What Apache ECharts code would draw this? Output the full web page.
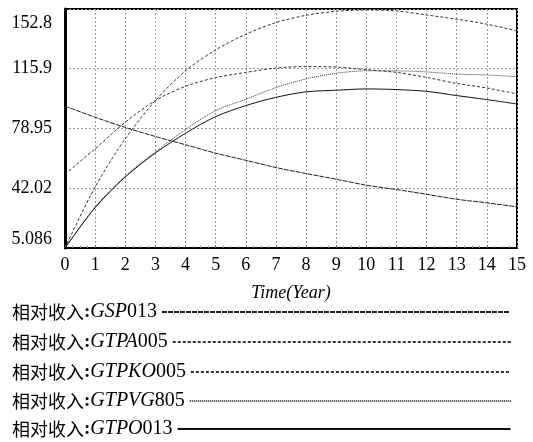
<!DOCTYPE html>
<html><head><meta charset="utf-8">
<script src="https://cdn.jsdelivr.net/npm/echarts@6/dist/echarts.min.js"></script>
<style>html,body{margin:0;padding:0;background:#fff}#c{width:533px;height:442px}</style>
</head><body><div id="c"></div>
<script>
var years = [0,1,2,3,4,5,6,7,8,9,10,11,12,13,14,15];
var yTicks = [5.086, 42.02, 78.95, 115.9, 152.8];
var yTickLabels = ['5.086', '42.02', '78.95', '115.9', '152.8'];
var seriesNames = ['相对收入:GSP013', '相对收入:GTPA005', '相对收入:GTPKO005', '相对收入:GTPVG805', '相对收入:GTPO013'];
var gsp013   = [92.7, 85.9, 79.6, 74.0, 68.9, 63.7, 59.3, 54.8, 51.1, 47.6, 43.9, 41.2, 38.3, 35.2, 33.0, 30.5];
var gtpa005  = [5.1, 42.8, 72.6, 96.2, 114.6, 127.5, 137.2, 144.4, 148.9, 151.4, 152.2, 151.6, 149.1, 146.5, 143.4, 139.3];
var gtpko005 = [50.8, 66.4, 82.8, 96.2, 105.0, 110.4, 113.6, 116.3, 117.2, 116.9, 115.3, 113.6, 110.5, 106.8, 104.0, 100.3];
var gtpvg805 = [5.1, 30.5, 49.5, 64.5, 78.3, 90.0, 97.0, 104.2, 109.6, 113.1, 114.6, 114.6, 113.9, 112.6, 112.0, 111.0];
var gtpo013  = [5.1, 30.0, 49.0, 63.8, 76.0, 86.3, 93.1, 98.2, 101.6, 102.6, 103.4, 103.0, 101.9, 99.3, 96.8, 94.1];

var values = [gsp013, gtpa005, gtpko005, gtpvg805, gtpo013];
var dashes = [[5,1], [3,2], [3,2], [1,1], 'solid'];
var colors = ['#222', '#333', '#333', '#333', '#111'];
var legendTops = [302, 332, 362, 391, 419];
var legendWidths = [348, 340, 319, 321, 333];

var chart = echarts.init(document.getElementById('c'), null, {renderer: 'canvas'});
var serif = '"Liberation Serif", "DejaVu Serif", serif';
var cjk = '"Noto Sans CJK SC", sans-serif';

function pairs(arr){ return years.map(function(x,i){ return [x, arr[i]]; }); }

var series = values.map(function(v, i){
  return {
    name: seriesNames[i], type: 'line', data: pairs(v), symbol: 'none', smooth: 0.3,
    lineStyle: {color: colors[i], width: 1, type: dashes[i]}, itemStyle: {color: colors[i]},
    z: 3
  };
});

var legends = seriesNames.map(function(n, i){
  return {
    data: [n], left: 12, top: legendTops[i], orient: 'horizontal', align: 'right',
    itemWidth: legendWidths[i], itemHeight: 12, padding: 0, selectedMode: false,
    itemStyle: {opacity: 0},
    formatter: function(name){
      var rest = name.split(':')[1];
      var m = rest.match(/^([A-Z]+)(\d+)$/);
      return '{a|相对收入}{d|:}{b|' + m[1] + '}{c|' + m[2] + '}';
    },
    textStyle: {
      color: '#000', fontSize: 18,
      rich: {
        a: {fontFamily: cjk, fontSize: 18, color: '#000'},
        d: {fontFamily: serif, fontSize: 19, fontWeight: 'bold', color: '#000'},
        b: {fontFamily: serif, fontSize: 20, fontStyle: 'italic', color: '#000'},
        c: {fontFamily: serif, fontSize: 20, color: '#000'}
      }
    }
  };
});

chart.setOption({
  animation: false,
  backgroundColor: '#fff',
  grid: {left: 65, right: 16, top: 9, bottom: 194, show: true, borderColor: '#000', borderWidth: 2, backgroundColor: 'transparent'},
  legend: legends,
  xAxis: {
    type: 'value', min: 0, max: 15, interval: 1,
    name: 'Time(Year)', nameLocation: 'middle', nameGap: 36,
    nameTextStyle: {fontFamily: serif, fontSize: 18, fontStyle: 'italic', color: '#000'},
    axisLine: {show: true, lineStyle: {color: '#000', width: 2}},
    axisTick: {show: true, inside: true, length: 3, lineStyle: {color: '#666'}},
    minorTick: {show: true, splitNumber: 4, length: 2, lineStyle: {color: '#888'}},
    axisLabel: {fontFamily: serif, fontSize: 18, color: '#000', margin: 8},
    splitLine: {show: true, lineStyle: {color: '#999', type: [2,2], width: 1}}
  },
  yAxis: {
    type: 'value', min: yTicks[0], max: yTicks[yTicks.length-1],
    axisLine: {show: true, lineStyle: {color: '#000', width: 3}},
    axisTick: {show: false, customValues: yTicks},
    axisLabel: {
      fontFamily: serif, fontSize: 18, color: '#000', margin: 13,
      customValues: yTicks,
      verticalAlignMinLabel: 'bottom', verticalAlignMaxLabel: 'top',
      rich: {t: {fontFamily: serif, fontSize: 18, color: '#000', padding: [5, 0, 0, 0]}},
      formatter: function(v){
        var k = yTicks.indexOf(v);
        if (k < 0) return '';
        return k === yTicks.length - 1 ? '{t|' + yTickLabels[k] + '}' : yTickLabels[k];
      }
    },
    splitLine: {show: true, lineStyle: {color: '#999', type: [2,2], width: 1}}
  },
  series: series
});
</script></body></html>
